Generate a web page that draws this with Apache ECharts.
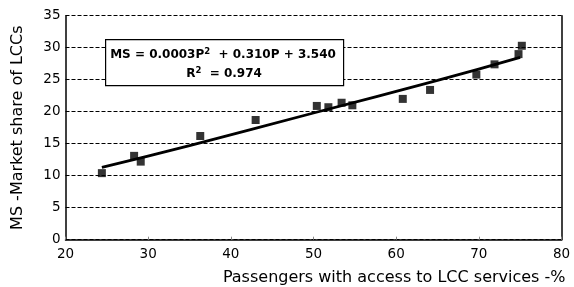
<!DOCTYPE html>
<html>
<head>
<meta charset="utf-8">
<script src="https://cdn.jsdelivr.net/npm/echarts@6/dist/echarts.min.js"></script>
<style>
  html, body { margin: 0; padding: 0; background: #fff; }
  #chart { width: 574px; height: 287px; }
</style>
</head>
<body>
<div id="chart"></div>
<script>
// observed airports: share of passengers with LCC access vs LCC market share
var accessPct = [24.4, 28.3, 29.1, 36.3, 43.0, 50.4, 51.8, 53.4, 54.7, 60.8, 64.1, 69.7, 71.9, 74.8, 75.2]
var marketShare = [10.4, 13.1, 12.2, 16.2, 18.7, 20.9, 20.7, 21.4, 21.0, 22.0, 23.4, 25.8, 27.4, 29.0, 30.3]

// fitted trend line
var trendX = [24.4, 35, 50, 65, 75]
var trendY = [11.3, 14.7, 19.8, 24.9, 28.5]

var yTicks = [0, 5, 10, 15, 20, 25, 30, 35]

let myChart = echarts.init(document.getElementById('chart'))

var points = accessPct.map(function (x, i) { return [x, marketShare[i]] })
var trend = trendX.map(function (x, i) { return [x, trendY[i]] })

var font = 'DejaVu Sans, sans-serif'
// rich styles so the "2" sits above the cap line
var eqRich = {
  b: { fontSize: 12, fontWeight: 'bold', fontFamily: font, lineHeight: 14, verticalAlign: 'bottom' },
  sup: { fontSize: 8.5, fontWeight: 'bold', fontFamily: font, lineHeight: 10, verticalAlign: 'top', padding: [0, 0, 8, 0] }
}

myChart.setOption({
  animation: false,
  textStyle: { fontFamily: font },
  grid: { left: 65.5, right: 12.5, top: 15.7, bottom: 47.3 },
  xAxis: {
    type: 'value',
    min: 20,
    max: 80,
    interval: 10,
    name: 'Passengers with access to LCC services -%',
    nameLocation: 'end',
    nameGap: 4,
    nameTextStyle: { color: '#000', fontSize: 16, align: 'right', verticalAlign: 'top', padding: [30, 0, 0, 0] },
    axisLine: { onZero: false, lineStyle: { color: '#000', width: 1.5 } },
    axisTick: { inside: true, length: 3, lineStyle: { color: '#888' } },
    axisLabel: { color: '#000', fontSize: 13.5, margin: 8 },
    splitLine: { show: false }
  },
  yAxis: [{
    type: 'value',
    min: 0,
    max: yTicks[yTicks.length - 1],
    interval: 5,
    name: 'MS -Market share of LCCs',
    nameLocation: 'middle',
    nameGap: 40,
    nameTextStyle: { color: '#000', fontSize: 16 },
    axisLine: { show: true, lineStyle: { color: '#000', width: 1.5 } },
    axisTick: { show: false },
    axisLabel: { color: '#000', fontSize: 13.5, margin: 5 },
    splitLine: { show: true, lineStyle: { color: '#000', type: [4, 2], width: 1 } }
  }, {
    type: 'value',
    position: 'right',
    min: 0,
    max: 35,
    interval: 5,
    axisLine: { show: true, lineStyle: { color: '#000', width: 1.5 } },
    axisTick: { show: false },
    axisLabel: { show: false },
    splitLine: { show: false }
  }],
  graphic: [{
    type: 'rect',
    left: 105,
    top: 39,
    shape: { width: 238, height: 46 },
    style: { fill: '#fff', stroke: '#000', lineWidth: 1.2 },
    z: 100
  }, {
    type: 'text',
    x: 223,
    y: 47,
    style: {
      text: '{b|MS = 0.0003P}{sup|2}{b|  + 0.310P + 3.540}',
      align: 'center',
      verticalAlign: 'top',
      fill: '#000',
      rich: eqRich
    },
    z: 101
  }, {
    type: 'text',
    x: 224,
    y: 66,
    style: {
      text: '{b|R}{sup|2}{b|  = 0.974}',
      align: 'center',
      verticalAlign: 'top',
      fill: '#000',
      rich: eqRich
    },
    z: 101
  }],
  series: [{
    name: 'trend',
    type: 'line',
    data: trend,
    smooth: true,
    symbol: 'none',
    lineStyle: { color: '#000', width: 2.8 },
    z: 3
  }, {
    name: 'airports',
    type: 'scatter',
    data: points,
    symbol: 'rect',
    symbolSize: 8,
    itemStyle: { color: '#000' },
    z: 4
  }]
})
</script>
</body>
</html>
